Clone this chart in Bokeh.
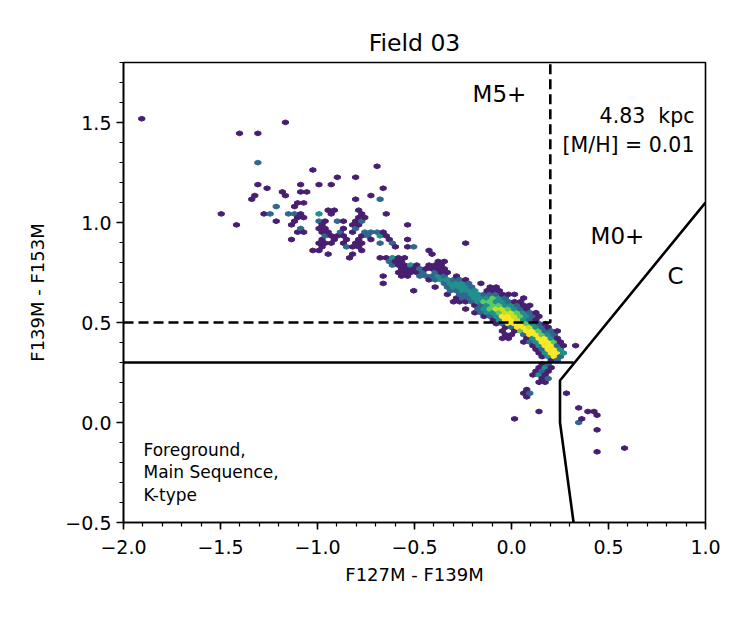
import numpy as np
import pandas as pd
from bokeh.plotting import figure
from bokeh.models import ColumnDataSource, FixedTicker, Label, Range1d
from bokeh.transform import linear_cmap
from bokeh.palettes import Viridis256
from bokeh.util.hex import cartesian_to_axial
from bokeh.embed import file_html
from bokeh.resources import INLINE

# ---- hexbin cells of the colour-colour diagram: centre (x, y) and star count ----
cell_x = [
    -1.906,
    -1.1655,
    -1.402, -1.307,
    -1.307,
    -0.693,
    -1.024,
    -0.898, -0.803,
    -1.307, -1.087, -0.992, -0.929,
    -1.26, -0.6615,
    -1.181, -1.087, -1.055,
    -1.323, -1.1655, -0.7245,
    -1.339, -0.803, -0.677,
    -1.1025, -1.071,
    -1.213, -1.118,
    -0.945, -0.9135, -0.7875,
    -1.496, -1.276, -1.244, -1.150, -1.118, -1.087, -0.992, -0.929, -0.772, -0.646,
    -1.1025, -1.071, -0.7875, -0.756,
    -1.213, -1.118, -0.992, -0.961, -0.898, -0.866, -0.803, -0.772,
    -1.4175, -1.134, -0.9765, -0.819, -0.7875, -0.5355,
    -1.087, -0.992, -0.961, -0.866, -0.803,
    -1.1025, -1.071, -0.9765, -0.945, -0.882, -0.819, -0.756, -0.7245, -0.693, -0.6615,
    -0.961, -0.929, -0.898, -0.866, -0.772, -0.740, -0.677, -0.646,
    -1.134, -0.9765, -0.9135, -0.8505, -0.7875, -0.7245, -0.63, -0.5355,
    -0.992, -0.961, -0.929, -0.866, -0.803, -0.772, -0.677, -0.614, -0.236,
    -0.9765, -0.8505, -0.819, -0.7875, -0.5985, -0.5355, -0.504,
    -1.024, -0.992, -0.772, -0.425,
    -0.945, -0.819, -0.4095,
    -0.835, -0.677, -0.646, -0.614, -0.583, -0.551,
    -0.63, -0.5985, -0.567, -0.378, -0.3465,
    -0.614, -0.583, -0.551, -0.520, -0.488, -0.425, -0.394, -0.362,
    -0.567, -0.5355, -0.504, -0.4725, -0.441, -0.4095, -0.378, -0.3465,
    -0.583, -0.551, -0.520, -0.488, -0.457, -0.394, -0.362, -0.331,
    -0.6615, -0.567, -0.5355, -0.4725, -0.441, -0.4095, -0.378, -0.3465, -0.2835,
    -0.425, -0.394, -0.362, -0.331, -0.299, -0.268, -0.236,
    -0.6615, -0.3465, -0.315, -0.2835, -0.252, -0.2205, -0.1575,
    -0.394, -0.331, -0.299, -0.268, -0.236, -0.205, -0.110, -0.079,
    -0.504, -0.315, -0.2835, -0.252, -0.2205, -0.189, -0.126, -0.0945, -0.063,
    -0.331, -0.268, -0.236, -0.205, -0.173, -0.142, -0.110, -0.079, -0.047, -0.016, 0.016,
    -0.2835, -0.252, -0.2205, -0.189, -0.1575, -0.126, -0.0945, -0.063, -0.0315, 0.063,
    -0.299, -0.268, -0.236, -0.205, -0.173, -0.142, -0.110, -0.079, -0.047, -0.016, 0.016, 0.047,
    -0.189, -0.1575, -0.126, -0.0945, -0.063, -0.0315, 0.0, 0.0315, 0.063, 0.0945,
    -0.236, -0.173, -0.142, -0.110, -0.079, -0.047, -0.016, 0.016, 0.047, 0.079,
    -0.189, -0.1575, -0.126, -0.0945, -0.063, -0.0315, 0.0, 0.0315, 0.063, 0.0945, 0.126,
    -0.142, -0.110, -0.079, -0.047, -0.016, 0.016, 0.047, 0.079, 0.110, 0.142,
    -0.0945, -0.063, -0.0315, 0.0, 0.0315, 0.063, 0.0945, 0.126,
    -0.079, -0.047, -0.016, 0.016, 0.047, 0.079, 0.110, 0.142, 0.173,
    -0.0315, 0.0, 0.0315, 0.063, 0.0945, 0.126, 0.1575, 0.189,
    -0.047, 0.016, 0.047, 0.079, 0.110, 0.142, 0.173, 0.205, 0.236,
    -0.0315, 0.0, 0.063, 0.0945, 0.126, 0.1575, 0.189, 0.2205,
    -0.047, -0.016, 0.079, 0.110, 0.142, 0.173, 0.205, 0.236,
    0.063, 0.0945, 0.126, 0.1575, 0.189, 0.2205, 0.252,
    0.110, 0.142, 0.173, 0.205, 0.236, 0.268, 0.331,
    0.126, 0.1575, 0.189, 0.2205, 0.252,
    0.142, 0.173, 0.205, 0.236, 0.268,
    0.1575, 0.189, 0.2205, 0.252,
    0.205, 0.236,
    0.1575, 0.189,
    0.142, 0.173, 0.205,
    0.126, 0.1575, 0.189,
    0.110, 0.142, 0.173,
    0.1575, 0.189,
    0.142, 0.173,
    0.079,
    0.063, 0.0945, 0.2835,
    0.079,
    0.3465,
    0.142, 0.394, 0.425,
    0.441,
    0.016, 0.362,
    0.3465,
    0.441,
    0.583,
    0.441,
]

cell_y = [
    1.5189,
    1.5006,
    1.4457, 1.4457,
    1.2993,
    1.281,
    1.2627,
    1.2261, 1.2261,
    1.1895, 1.1895, 1.1895, 1.1895,
    1.1712, 1.1712,
    1.1529, 1.1529, 1.1529,
    1.1346, 1.1346, 1.1346,
    1.1163, 1.1163, 1.1163,
    1.098, 1.098,
    1.0797, 1.0797,
    1.0614, 1.0614, 1.0614,
    1.0431, 1.0431, 1.0431, 1.0431, 1.0431, 1.0431, 1.0431, 1.0431, 1.0431, 1.0431,
    1.0248, 1.0248, 1.0248, 1.0248,
    1.0065, 1.0065, 1.0065, 1.0065, 1.0065, 1.0065, 1.0065, 1.0065,
    0.9882, 0.9882, 0.9882, 0.9882, 0.9882, 0.9882,
    0.9699, 0.9699, 0.9699, 0.9699, 0.9699,
    0.9516, 0.9516, 0.9516, 0.9516, 0.9516, 0.9516, 0.9516, 0.9516, 0.9516, 0.9516,
    0.9333, 0.9333, 0.9333, 0.9333, 0.9333, 0.9333, 0.9333, 0.9333,
    0.915, 0.915, 0.915, 0.915, 0.915, 0.915, 0.915, 0.915,
    0.8967, 0.8967, 0.8967, 0.8967, 0.8967, 0.8967, 0.8967, 0.8967, 0.8967,
    0.8784, 0.8784, 0.8784, 0.8784, 0.8784, 0.8784, 0.8784,
    0.8601, 0.8601, 0.8601, 0.8601,
    0.8418, 0.8418, 0.8418,
    0.8235, 0.8235, 0.8235, 0.8235, 0.8235, 0.8235,
    0.8052, 0.8052, 0.8052, 0.8052, 0.8052,
    0.7869, 0.7869, 0.7869, 0.7869, 0.7869, 0.7869, 0.7869, 0.7869,
    0.7686, 0.7686, 0.7686, 0.7686, 0.7686, 0.7686, 0.7686, 0.7686,
    0.7503, 0.7503, 0.7503, 0.7503, 0.7503, 0.7503, 0.7503, 0.7503,
    0.732, 0.732, 0.732, 0.732, 0.732, 0.732, 0.732, 0.732, 0.732,
    0.7137, 0.7137, 0.7137, 0.7137, 0.7137, 0.7137, 0.7137,
    0.6954, 0.6954, 0.6954, 0.6954, 0.6954, 0.6954, 0.6954,
    0.6771, 0.6771, 0.6771, 0.6771, 0.6771, 0.6771, 0.6771, 0.6771,
    0.6588, 0.6588, 0.6588, 0.6588, 0.6588, 0.6588, 0.6588, 0.6588, 0.6588,
    0.6405, 0.6405, 0.6405, 0.6405, 0.6405, 0.6405, 0.6405, 0.6405, 0.6405, 0.6405, 0.6405,
    0.6222, 0.6222, 0.6222, 0.6222, 0.6222, 0.6222, 0.6222, 0.6222, 0.6222, 0.6222,
    0.6039, 0.6039, 0.6039, 0.6039, 0.6039, 0.6039, 0.6039, 0.6039, 0.6039, 0.6039, 0.6039, 0.6039,
    0.5856, 0.5856, 0.5856, 0.5856, 0.5856, 0.5856, 0.5856, 0.5856, 0.5856, 0.5856,
    0.5673, 0.5673, 0.5673, 0.5673, 0.5673, 0.5673, 0.5673, 0.5673, 0.5673, 0.5673,
    0.549, 0.549, 0.549, 0.549, 0.549, 0.549, 0.549, 0.549, 0.549, 0.549, 0.549,
    0.5307, 0.5307, 0.5307, 0.5307, 0.5307, 0.5307, 0.5307, 0.5307, 0.5307, 0.5307,
    0.5124, 0.5124, 0.5124, 0.5124, 0.5124, 0.5124, 0.5124, 0.5124,
    0.4941, 0.4941, 0.4941, 0.4941, 0.4941, 0.4941, 0.4941, 0.4941, 0.4941,
    0.4758, 0.4758, 0.4758, 0.4758, 0.4758, 0.4758, 0.4758, 0.4758,
    0.4575, 0.4575, 0.4575, 0.4575, 0.4575, 0.4575, 0.4575, 0.4575, 0.4575,
    0.4392, 0.4392, 0.4392, 0.4392, 0.4392, 0.4392, 0.4392, 0.4392,
    0.4209, 0.4209, 0.4209, 0.4209, 0.4209, 0.4209, 0.4209, 0.4209,
    0.4026, 0.4026, 0.4026, 0.4026, 0.4026, 0.4026, 0.4026,
    0.3843, 0.3843, 0.3843, 0.3843, 0.3843, 0.3843, 0.3843,
    0.366, 0.366, 0.366, 0.366, 0.366,
    0.3477, 0.3477, 0.3477, 0.3477, 0.3477,
    0.3294, 0.3294, 0.3294, 0.3294,
    0.3111, 0.3111,
    0.2928, 0.2928,
    0.2745, 0.2745, 0.2745,
    0.2562, 0.2562, 0.2562,
    0.2379, 0.2379, 0.2379,
    0.2196, 0.2196,
    0.2013, 0.2013,
    0.1647,
    0.1464, 0.1464, 0.1464,
    0.1281,
    0.0732,
    0.0549, 0.0549, 0.0549,
    0.0366,
    0.0183, 0.0183,
    0.0,
    -0.0366,
    -0.1281,
    -0.1464,
]

cell_count = [
    1,
    1,
    1, 1,
    4,
    1,
    1,
    1, 1,
    1, 1, 1, 1,
    1, 1,
    1, 1, 1,
    1, 1, 1,
    1, 1, 4,
    1, 1,
    4, 1,
    1, 1, 1,
    1, 1, 4, 4, 4, 1, 6, 1, 1, 1,
    1, 1, 1, 1,
    1, 1, 4, 1, 4, 1, 1, 4,
    1, 1, 1, 1, 1, 1,
    4, 1, 1, 1, 4,
    1, 1, 1, 1, 4, 1, 4, 4, 4, 1,
    4, 1, 1, 1, 1, 4, 6, 1,
    1, 1, 1, 1, 1, 1, 1, 1,
    1, 1, 1, 1, 1, 1, 4, 4, 1,
    1, 4, 1, 1, 1, 1, 4,
    1, 1, 1, 1,
    1, 1, 1,
    1, 1, 1, 6, 1, 1,
    4, 1, 1, 1, 1,
    4, 1, 1, 6, 1, 1, 1, 1,
    1, 1, 1, 4, 1, 1, 1, 1,
    1, 1, 1, 1, 4, 4, 1, 1,
    1, 1, 1, 4, 4, 4, 6, 4, 1,
    1, 4, 6, 6, 4, 4, 1,
    1, 4, 6, 6, 6, 4, 1,
    1, 4, 6, 6, 6, 4, 1, 1,
    1, 4, 4, 6, 6, 6, 1, 1, 1,
    1, 4, 4, 6, 6, 4, 4, 4, 1, 1, 1,
    1, 4, 4, 6, 6, 6, 9, 6, 4, 1,
    1, 1, 1, 4, 6, 9, 9, 6, 6, 4, 1, 1,
    1, 4, 6, 9, 9, 6, 6, 4, 1, 1,
    1, 4, 6, 9, 11, 11, 9, 6, 4, 1,
    1, 4, 6, 6, 9, 11, 11, 9, 6, 4, 1,
    1, 4, 6, 12, 12, 11, 9, 6, 4, 1,
    1, 6, 12, 12, 11, 6, 4, 1,
    1, 4, 12, 12, 12, 9, 6, 4, 1,
    1, 4, 12, 12, 11, 6, 4, 1,
    1, 1, 9, 12, 12, 9, 4, 4, 1,
    1, 1, 4, 12, 12, 9, 6, 4,
    1, 1, 1, 6, 12, 12, 6, 1,
    1, 4, 6, 12, 12, 9, 1,
    1, 6, 12, 12, 4, 1, 1,
    1, 4, 12, 12, 6,
    1, 6, 12, 12, 6,
    1, 6, 12, 4,
    1, 4,
    1, 4,
    1, 6, 1,
    1, 4, 1,
    1, 6, 1,
    1, 4,
    1, 1,
    1,
    1, 4, 1,
    1,
    1,
    1, 1, 1,
    1,
    1, 1,
    4,
    1,
    1,
    1,
]

# ---- axis ticks ----
x_ticks = [-2.0, -1.5, -1.0, -0.5, 0.0, 0.5, 1.0]
x_tick_labels = ["\u22122.0", "\u22121.5", "\u22121.0", "\u22120.5", "0.0", "0.5", "1.0"]
y_ticks = [-0.5, 0.0, 0.5, 1.0, 1.5]
y_tick_labels = ["\u22120.5", "0.0", "0.5", "1.0", "1.5"]

# ---- region boundaries ----
mdwarf_x = [-2.0, 0.2, 0.2]          # dashed M5+ box
mdwarf_y = [0.5, 0.5, 1.8]
fg_cut_x = [-2.0, 0.32]              # foreground / M0+ cut
fg_cut_y = [0.3, 0.3]
carbon_x = [0.32, 0.25, 0.25, 1.0]   # carbon-star wedge
carbon_y = [-0.5, 0.0, 0.21, 1.1]

HEX_SIZE = 0.0122
HEX_ASPECT = 0.6708
FONT = "DejaVu Sans"

q, r = cartesian_to_axial(np.asarray(cell_x), np.asarray(cell_y), HEX_SIZE,
                          "pointytop", aspect_scale=HEX_ASPECT)
cells = (pd.DataFrame(dict(q=q, r=r, count=cell_count))
         .groupby(["q", "r"], as_index=False)["count"].sum())
src = ColumnDataSource(cells)

p = figure(width=752, height=617, output_backend="svg", toolbar_location=None,
           x_range=Range1d(-2.0, 1.0), y_range=Range1d(-0.5, 1.8),
           min_border_left=123, min_border_right=47,
           min_border_top=62, min_border_bottom=95,
           background_fill_color="white", border_fill_color="white")

cmap = linear_cmap("count", Viridis256, 0, 12)
p.hex_tile(q="q", r="r", size=HEX_SIZE, orientation="pointytop",
           aspect_scale=HEX_ASPECT, source=src,
           fill_color=cmap, line_color=cmap, line_width=1.0)

p.line(mdwarf_x, mdwarf_y, line_color="black", line_width=2.6, line_dash="10 5")
p.line(fg_cut_x, fg_cut_y, line_color="black", line_width=2.6)
p.line(carbon_x, carbon_y, line_color="black", line_width=2.6)

# title
p.title.text = "Field 03"
p.title.align = "center"
p.title.text_font = FONT
p.title.text_font_size = "23.5px"
p.title.text_font_style = "normal"
p.title.text_color = "black"
p.title.standoff = 12

# frame and grid
p.xgrid.visible = False
p.ygrid.visible = False
p.outline_line_color = "black"
p.outline_line_width = 1.6
p.outline_line_alpha = 1.0

for ax, ticks, labels, minor in (
        (p.xaxis[0], x_ticks, x_tick_labels, np.round(np.arange(-2.0, 1.001, 0.1), 2).tolist()),
        (p.yaxis[0], y_ticks, y_tick_labels, np.round(np.arange(-0.5, 1.801, 0.1), 2).tolist())):
    ax.ticker = FixedTicker(ticks=ticks, minor_ticks=minor)
    ax.major_label_overrides = {t: s for t, s in zip(ticks, labels)}
    ax.major_label_text_font = FONT
    ax.major_label_text_font_size = "19px"
    ax.major_label_text_color = "black"
    ax.axis_label_text_font = FONT
    ax.axis_label_text_font_size = "18px"
    ax.axis_label_text_font_style = "normal"
    ax.axis_label_text_color = "black"
    ax.axis_line_color = "black"
    ax.axis_line_width = 1.6
    ax.major_tick_line_color = "black"
    ax.major_tick_line_width = 1.6
    ax.minor_tick_line_color = "black"
    ax.minor_tick_line_width = 1.2
    ax.major_tick_out = 7
    ax.major_tick_in = 0
    ax.minor_tick_out = 4
    ax.minor_tick_in = 0

p.xaxis.major_label_standoff = 10
p.yaxis.major_label_standoff = 5
p.xaxis.axis_label = "F127M - F139M"
p.yaxis.axis_label = "F139M - F153M"
p.xaxis.axis_label_standoff = 7
p.yaxis.axis_label_standoff = 14

def note(x, y, text, size, align="center"):
    p.add_layout(Label(x=x, y=y, text=text, text_font=FONT, text_font_size=size,
                       text_color="black", text_align=align, text_baseline="middle"))

note(-0.062, 1.645, "M5+", "23px")
note(0.546, 0.935, "M0+", "23px")
note(0.845, 0.735, "C", "23px")
note(0.943, 1.535, "4.83\u00a0\u00a0kpc", "20.5px", "right")
note(0.943, 1.39, "[M/H] = 0.01", "20.5px", "right")
note(-1.897, -0.135, "Foreground,", "17px", "left")
note(-1.897, -0.248, "Main Sequence,", "17px", "left")
note(-1.897, -0.36, "K-type", "17px", "left")

open("out.html", "w").write(file_html(p, INLINE))
